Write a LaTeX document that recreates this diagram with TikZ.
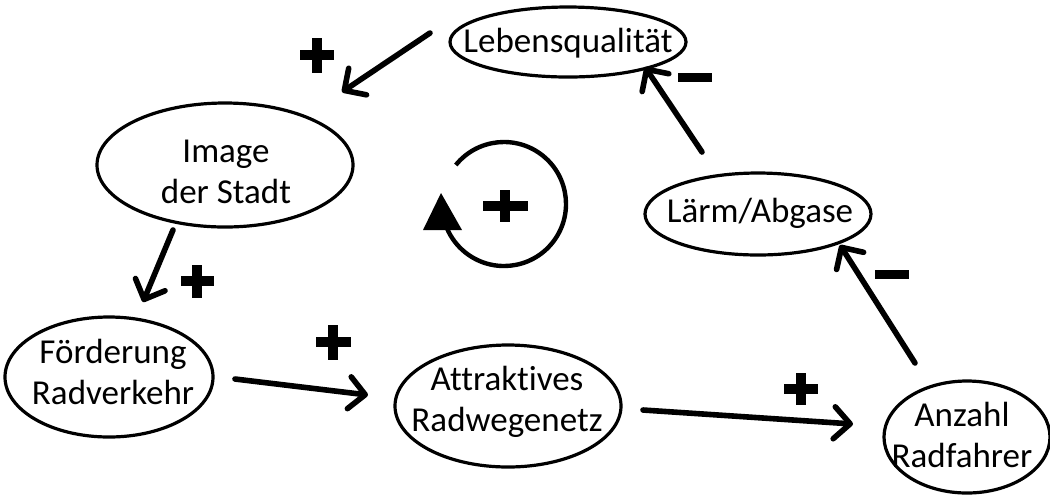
\documentclass[tikz,border=0pt]{standalone}
\usepackage{fontspec}
\setmainfont{Carlito}[Ligatures=NoCommon]
\usetikzlibrary{arrows.meta,shapes.geometric}
\begin{document}
\begin{tikzpicture}[x=0.5pt,y=-0.5pt,
  ell/.style={draw, ellipse, line width=1.6pt, inner sep=0pt},
  txt/.style={font=\fontsize{17.5}{20.5}\selectfont, align=center, inner sep=0pt},
  conn/.style={line width=2.8pt, line cap=round, -{Straight Barb[length=8pt,width=16pt,round]}},
  sign/.style={fill=black, draw=none}
]
\useasboundingbox[fill=white] (0,0) rectangle (1050,495);

% ellipses
\node[ell, minimum width=236*0.5pt, minimum height=70*0.5pt] (leb) at (568,42) {};
\node[ell, minimum width=256*0.5pt, minimum height=124*0.5pt] (img) at (225,165) {};
\node[ell, minimum width=208*0.5pt, minimum height=120*0.5pt] (foe) at (109,377) {};
\node[ell, minimum width=226*0.5pt, minimum height=122*0.5pt] (att) at (508,406) {};
\node[ell, minimum width=166*0.5pt, minimum height=112*0.5pt] (anz) at (967,437) {};
\node[ell, minimum width=226*0.5pt, minimum height=82*0.5pt] (lae) at (758,214) {};

% texts
\node[txt] (lebT) at (568,43) {Lebensqualität};
\node[txt] (imgT) at (226,172) {Image\\der Stadt};
\node[txt] (foeT) at (113,372) {Förderung\\Radverkehr};
\node[txt] (attT) at (507,402) {Attraktives\\Radwegenetz};
\node[txt] (anzT) at (962,435) {Anzahl\\Radfahrer};
\node[txt] (laeT) at (760,213) {Lärm/Abgase};

% connectors
\draw[conn] ([shift={(-138,-9)}]leb.center) -- ([shift={(117,-73)}]img.center);
\draw[conn] ([shift={(-52,65)}]img.center) -- ([shift={(34,-75)}]foe.center);
\draw[conn] ([shift={(126,2)}]foe.center) -- ([shift={(-140,-11)}]att.center);
\draw[conn] ([shift={(135,4)}]att.center) -- ([shift={(-114,-13)}]anz.center);
\draw[conn] ([shift={(-52,-74)}]anz.center) -- ([shift={(82,31)}]lae.center);
\draw[conn] ([shift={(-56,-62)}]lae.center) -- ([shift={(77,25)}]leb.center);

% plus signs
\foreach \cx/\cy/\w/\h in {317/55/34/35, 197/281/33/33, 333/342/35/35, 801/389/34/32, 505/206/45/32}{
  \fill[sign] (\cx-\w/2,\cy-5) rectangle (\cx+\w/2,\cy+5);
  \fill[sign] (\cx-5,\cy-\h/2) rectangle (\cx+5,\cy+\h/2);
}
% minus signs
\fill[sign] (678,73) rectangle (712,82);
\fill[sign] (875,270) rectangle (909,279);

% cycle symbol
\draw[line width=2.2pt] (504,204) ++(141:31pt) arc[start angle=141, end angle=-157, radius=31pt];
\fill (441,193) -- (423,230) -- (462,230) -- cycle;
\end{tikzpicture}
\end{document}
